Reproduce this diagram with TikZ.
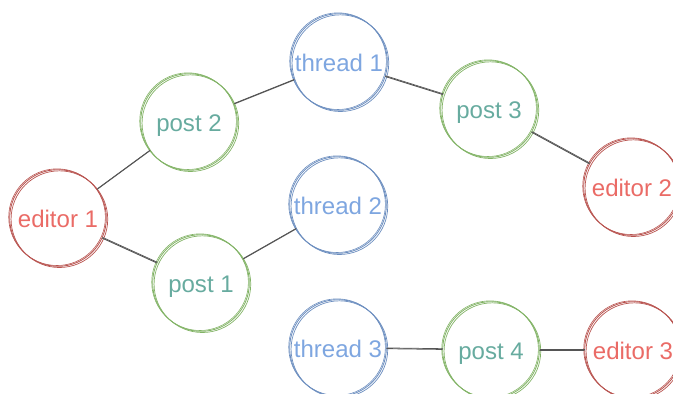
\documentclass[tikz,border=0pt]{standalone}
\usepackage{fontspec}
\setmainfont{Liberation Sans}
\usepackage{xcolor}
\usepackage{tikz}
\definecolor{redline}{HTML}{B85450}
\definecolor{redtext}{HTML}{EA6B66}
\definecolor{greenline}{HTML}{82B366}
\definecolor{greentext}{HTML}{67AB9F}
\definecolor{blueline}{HTML}{6C8EBF}
\definecolor{bluetext}{HTML}{7EA6E0}
\definecolor{edge}{HTML}{555555}
\tikzset{
  blob/.style={circle, minimum size=2.9cm, inner sep=-4pt, line width=0.7pt,
    font=\fontsize{20.5}{24}\selectfont, text height=17pt, text depth=1.6pt,
    postaction={draw, line width=0.6pt, transform canvas={shift={(1.2pt,-1pt)}}},
    postaction={draw, line width=0.5pt, transform canvas={shift={(-0.8pt,0.7pt)}}}},
  editor/.style={blob, draw=redline, text=redtext},
  post/.style={blob, draw=greenline, text=greentext},
  thread/.style={blob, draw=blueline, text=bluetext},
  link/.style={draw=edge, line width=0.8pt, line cap=round,
    postaction={draw, line width=0.6pt, transform canvas={shift={(0.4pt,0.6pt)}}}},
}

\begin{document}
\begin{tikzpicture}[x=0.03cm, y=-0.03cm]
  \useasboundingbox (0,0) rectangle (673,394);
  % editors
  \node[editor] (e1) at (58,218) {editor 1};
  \node[editor] (e2) at (632,187) {editor 2};
  \node[editor] (e3) at (633,350) {editor 3};
  % posts
  \node[post] (p1) at (201,283) {post 1};
  \node[post] (p2) at (189,122) {post 2};
  \node[post] (p3) at (489,109) {post 3};
  \node[post] (p4) at (491,350) {post 4};
  % threads
  \node[thread] (t1) at (339,62) {thread 1};
  \node[thread] (t2) at (338,205) {thread 2};
  \node[thread] (t3) at (338,348) {thread 3};
  \draw[link] (e1) -- (p2);
  \draw[link] (e1) -- (p1);
  \draw[link] (p2) -- (t1);
  \draw[link] (t1) -- (p3);
  \draw[link] (p3) -- (e2);
  \draw[link] (p1) -- (t2);
  \draw[link] (t3) -- (p4);
  \draw[link] (p4) -- (e3);
\end{tikzpicture}
\end{document}
